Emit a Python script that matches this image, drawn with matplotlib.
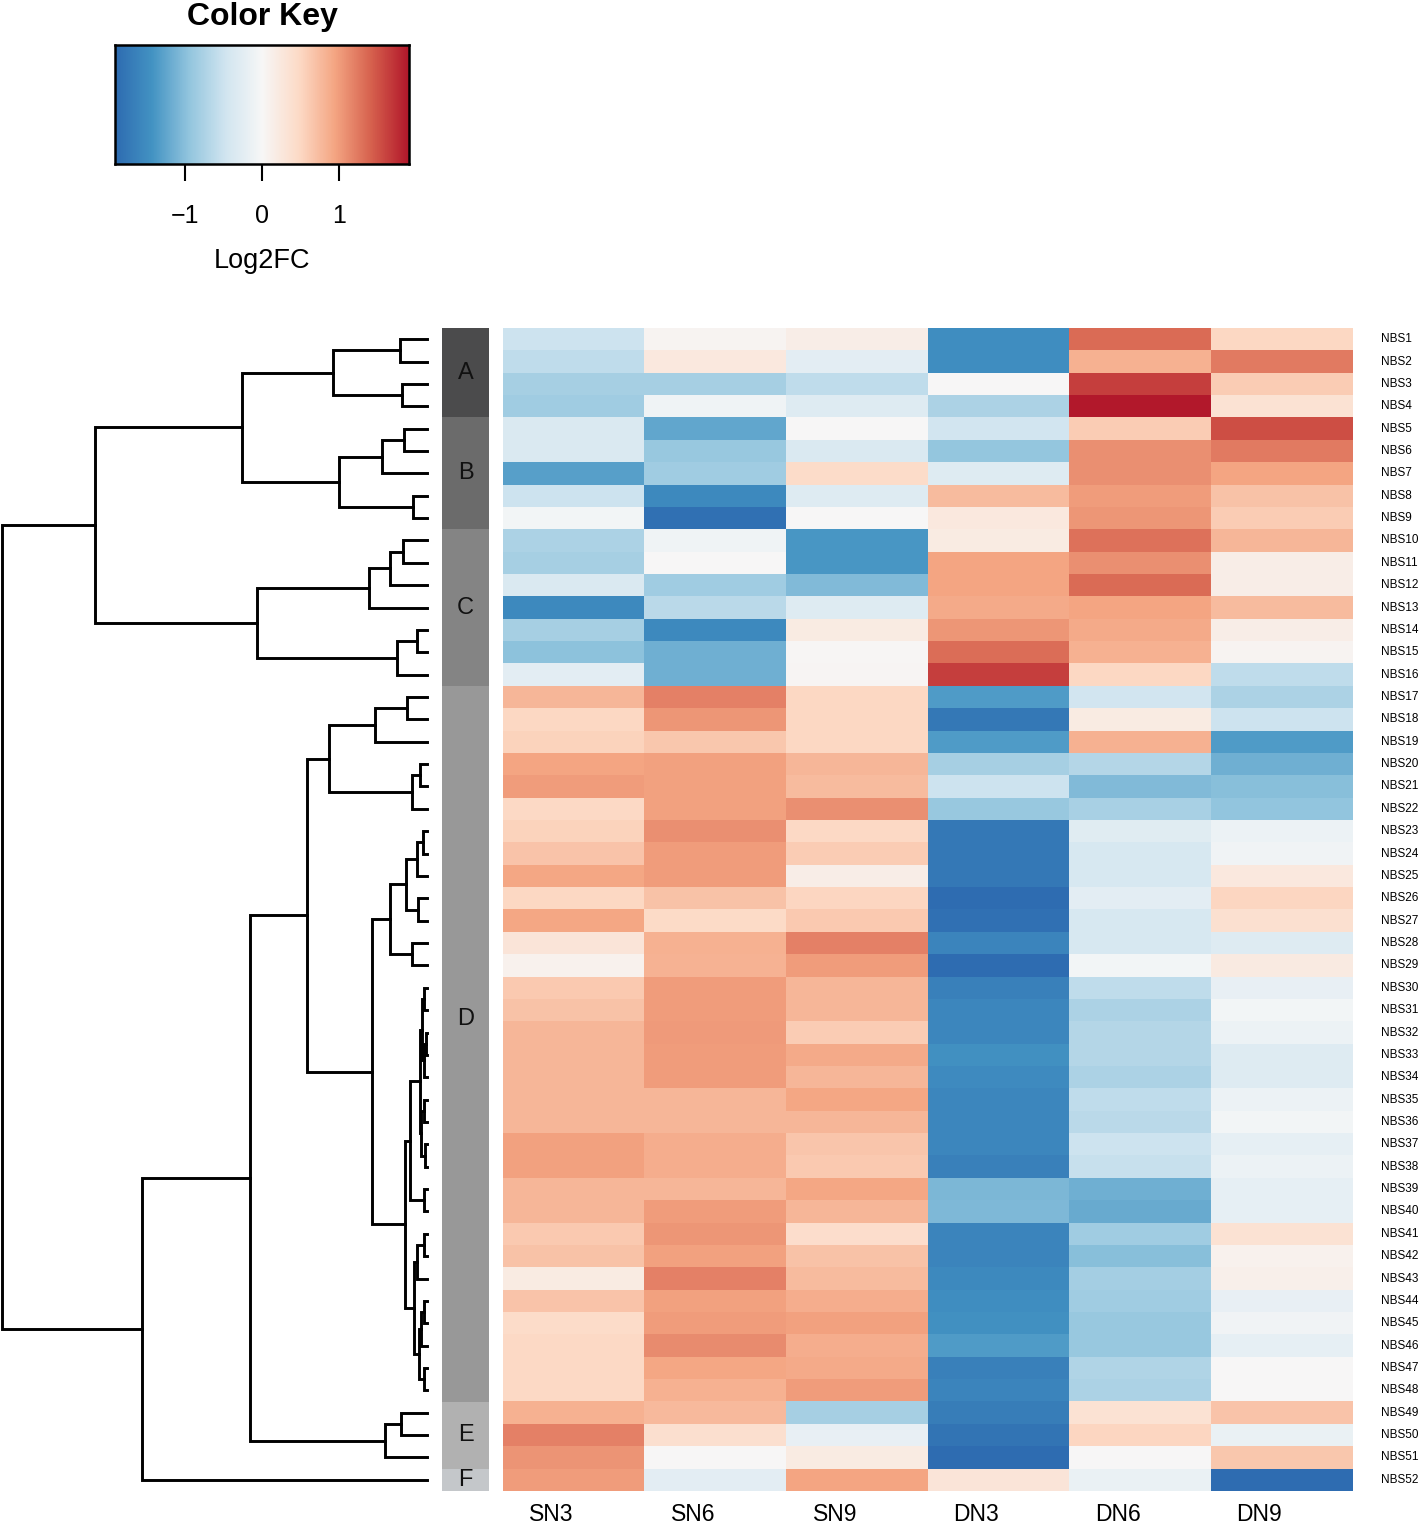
import numpy as np
import matplotlib.pyplot as plt
from matplotlib.colors import LinearSegmentedColormap

plt.rcParams['font.family'] = ['Liberation Sans', 'DejaVu Sans']

W, H = 1419, 1526

samples = ['SN3', 'SN6', 'SN9', 'DN3', 'DN6', 'DN9']
genes = ['NBS%d' % i for i in range(1, 53)]

# log2 fold change, one row per gene, columns = samples
log2fc = np.array([
    [-0.50, 0.05, 0.15, -1.50, 1.35, 0.50],
    [-0.60, 0.25, -0.25, -1.50, 0.85, 1.25],
    [-0.80, -0.80, -0.60, 0.00, 1.65, 0.60],
    [-0.85, -0.10, -0.30, -0.75, 1.90, 0.35],
    [-0.35, -1.25, 0.00, -0.45, 0.60, 1.55],
    [-0.35, -0.90, -0.35, -0.93, 1.10, 1.25],
    [-1.30, -0.85, 0.45, -0.30, 1.10, 0.95],
    [-0.50, -1.55, -0.30, 0.75, 1.00, 0.70],
    [-0.05, -1.85, 0.00, 0.25, 1.05, 0.60],
    [-0.75, -0.10, -1.40, 0.20, 1.30, 0.80],
    [-0.80, 0.00, -1.40, 0.95, 1.10, 0.15],
    [-0.35, -0.85, -1.05, 0.95, 1.35, 0.15],
    [-1.55, -0.65, -0.30, 0.90, 0.95, 0.75],
    [-0.80, -1.55, 0.20, 1.05, 0.90, 0.15],
    [-0.98, -1.15, 0.02, 1.33, 0.85, 0.05],
    [-0.25, -1.15, 0.03, 1.65, 0.50, -0.60],
    [0.80, 1.20, 0.50, -1.35, -0.45, -0.75],
    [0.50, 1.05, 0.50, -1.75, 0.20, -0.50],
    [0.55, 0.65, 0.50, -1.35, 0.85, -1.35],
    [0.95, 0.97, 0.80, -0.80, -0.70, -1.15],
    [1.00, 0.97, 0.75, -0.50, -1.05, -1.00],
    [0.48, 0.98, 1.10, -0.90, -0.78, -0.95],
    [0.55, 1.10, 0.48, -1.75, -0.28, -0.12],
    [0.68, 1.00, 0.60, -1.75, -0.40, -0.08],
    [0.93, 1.00, 0.15, -1.75, -0.40, 0.25],
    [0.50, 0.70, 0.52, -1.90, -0.25, 0.52],
    [0.93, 0.47, 0.63, -1.85, -0.40, 0.38],
    [0.30, 0.85, 1.20, -1.60, -0.40, -0.30],
    [0.10, 0.83, 1.00, -1.90, -0.05, 0.22],
    [0.63, 1.00, 0.80, -1.65, -0.60, -0.18],
    [0.70, 1.00, 0.80, -1.58, -0.75, -0.05],
    [0.80, 1.02, 0.60, -1.58, -0.70, -0.12],
    [0.80, 1.00, 0.90, -1.45, -0.70, -0.30],
    [0.80, 1.00, 0.80, -1.53, -0.75, -0.30],
    [0.80, 0.80, 0.93, -1.58, -0.60, -0.12],
    [0.80, 0.80, 0.80, -1.58, -0.65, -0.05],
    [0.97, 0.87, 0.67, -1.58, -0.50, -0.20],
    [0.97, 0.87, 0.63, -1.65, -0.55, -0.12],
    [0.80, 0.80, 0.93, -1.08, -1.15, -0.20],
    [0.80, 1.00, 0.80, -1.07, -1.20, -0.20],
    [0.63, 1.05, 0.42, -1.60, -0.85, 0.35],
    [0.70, 0.98, 0.70, -1.60, -1.00, 0.10],
    [0.20, 1.20, 0.75, -1.55, -0.82, 0.12],
    [0.68, 0.98, 0.87, -1.50, -0.85, -0.18],
    [0.45, 1.00, 0.98, -1.45, -0.90, -0.08],
    [0.48, 1.12, 0.87, -1.35, -0.90, -0.20],
    [0.48, 0.93, 0.90, -1.65, -0.72, 0.00],
    [0.48, 0.85, 1.00, -1.60, -0.75, 0.00],
    [0.85, 0.77, -0.80, -1.70, 0.35, 0.68],
    [1.20, 0.40, -0.18, -1.80, 0.52, -0.15],
    [1.07, 0.00, 0.20, -1.90, 0.00, 0.65],
    [1.00, -0.25, 0.95, 0.30, -0.15, -1.90],
])

group_names = ['A', 'B', 'C', 'D', 'E', 'F']
group_sizes = [4, 5, 7, 32, 3, 1]
group_colors = ['#4b4b4c', '#6b6b6b', '#848484', '#989898', '#b1b1b1', '#c4c7ca']
group_label_rows = [2.0, 6.5, 12.5, 30.9, 49.5, 51.5]

# row dendrogram: (height, left, right); leaves are NBS numbers
A = (2.21, (0.635, 1, 2), (0.588, 3, 4))
B = (2.07, (1.06, (0.541, 5, 6), 7), (0.329, 8, 9))
C = (4.0, (1.365, (0.871, (0.565, 10, 11), 12), 13), (0.706, (0.235, 14, 15), 16))
D1 = (2.31, (1.22, (0.47, 17, 18), 19), (0.353, (0.165, 20, 21), 22))
D2a = (0.871, (0.494, (0.235, (0.094, 23, 24), 25), (0.212, 26, 27)), (0.353, 28, 29))
D30 = (0.165, (0.12, (0.08, 30, 31), (0.06, (0.03, 32, 33), 34)),
       (0.13, (0.07, 35, 36), (0.05, 37, 38)))
D41 = (0.306, (0.235, (0.07, 41, 42), 43), (0.188, (0.141, (0.07, 44, 45), 46), (0.07, 47, 48)))
D2 = (1.29, D2a, (0.518, (0.40, D30, (0.07, 39, 40)), D41))
E = (0.988, (0.612, 49, 50), 51)
tree = (10.0, (7.81, (4.35, A, B), C), (6.71, (4.16, (2.82, D1, D2), E), 52))

key_min, key_max = -1.91, 1.91

cmap = LinearSegmentedColormap.from_list('rdbu', [
    '#2e6cb1', '#4393c3', '#92c5de', '#d1e5f0', '#f7f7f7',
    '#fddbc7', '#f4a582', '#d6604d', '#b2182b'])

fig = plt.figure(figsize=(W / 100, H / 100), dpi=100)


def px_axes(x0, y0, x1, y1):
    return fig.add_axes([x0 / W, 1 - y1 / H, (x1 - x0) / W, (y1 - y0) / H])


# heatmap
ax = px_axes(503, 328, 1353, 1491)
ax.imshow(log2fc, cmap=cmap, vmin=key_min, vmax=key_max, aspect='auto',
          interpolation='nearest')
ax.set_axis_off()
nrow = len(genes)
for i, g in enumerate(genes):
    ax.text(5.7, i, g, fontsize=8.5, ha='left', va='center', clip_on=False)
for j, s in enumerate(samples):
    ax.text(j, nrow - 0.5 + 1.33, s, fontsize=16.5, ha='right', va='baseline',
            clip_on=False)

# group side bar
axg = px_axes(442, 328, 489, 1491)
start = 0
for name, size, col, ly in zip(group_names, group_sizes, group_colors, group_label_rows):
    axg.barh(start + size / 2, 1, height=size, left=0, color=col, linewidth=0)
    axg.text(0.5, ly, name, fontsize=17, ha='center', va='center', color='#111111')
    start += size
axg.set_xlim(0, 1)
axg.set_ylim(nrow, 0)
axg.set_axis_off()

# row dendrogram
axd = px_axes(0, 328, 427, 1491)


def draw(node):
    if isinstance(node, int):
        return node - 0.5, 0.0
    h, left, right = node
    yl, hl = draw(left)
    yr, hr = draw(right)
    axd.plot([hl, h, h, hr], [yl, yl, yr, yr], color='black', lw=2.1,
             solid_joinstyle='miter', clip_on=False)
    return (yl + yr) / 2, h


draw(tree)
axd.set_xlim(10.047, 0)
axd.set_ylim(nrow, 0)
axd.set_axis_off()

# color key
axk = px_axes(115, 45, 409, 164)
grad = np.linspace(key_min, key_max, 400)[None, :]
axk.imshow(grad, cmap=cmap, vmin=key_min, vmax=key_max, aspect='auto',
           extent=(key_min, key_max, 0, 1), interpolation='bilinear')
axk.set_yticks([])
axk.set_xticks([-1, 0, 1])
axk.set_xticklabels([])
axk.tick_params(axis='x', length=12, width=1.5)
for sp in axk.spines.values():
    sp.set_linewidth(1.8)
tr = axk.get_xaxis_transform()
for v, lab in zip([-1, 0, 1], ['\u22121', '0', '1']):
    axk.text(v, -0.496, lab, transform=tr, fontsize=18, ha='center', va='baseline')
axk.text(0, -0.874, 'Log2FC', transform=tr, fontsize=19.5, ha='center', va='baseline')
axk.text(0, 1.168, 'Color Key', transform=tr, fontsize=23, fontweight='bold',
         ha='center', va='baseline')

fig.savefig('out.png', dpi=100)
